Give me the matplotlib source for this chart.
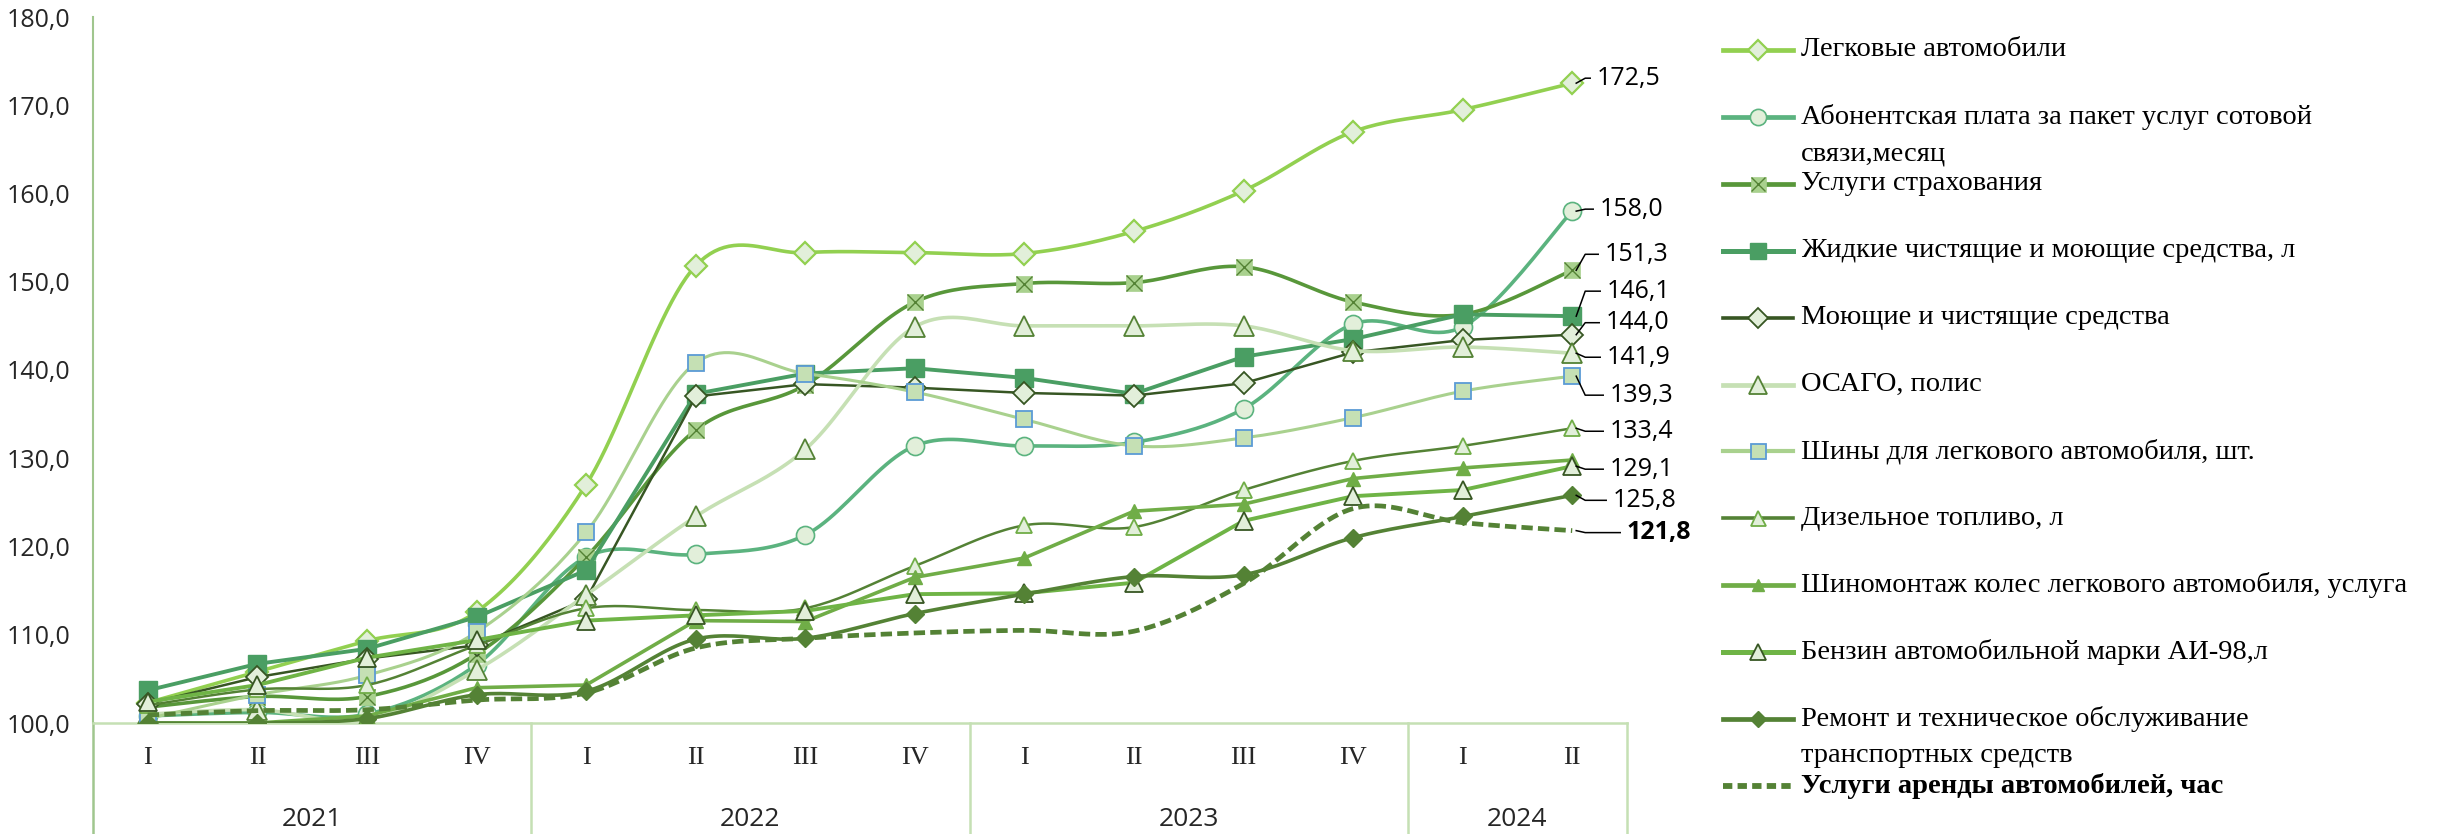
import numpy as np
import matplotlib
matplotlib.use("Agg")
import matplotlib.pyplot as plt
from matplotlib.lines import Line2D
from matplotlib.transforms import IdentityTransform, blended_transform_factory

# --- data -------------------------------------------------------------
quarters = ['I', 'II', 'III', 'IV', 'I', 'II', 'III', 'IV',
            'I', 'II', 'III', 'IV', 'I', 'II']
years = ['2021', '2022', '2023', '2024']
year_len = [4, 4, 4, 2]

names = [
    'Легковые автомобили',
    'Абонентская плата за пакет услуг сотовой\nсвязи,месяц',
    'Услуги страхования',
    'Жидкие чистящие и моющие средства, л',
    'Моющие и чистящие средства',
    'ОСАГО, полис',
    'Шины для легкового автомобиля, шт.',
    'Дизельное топливо, л',
    'Шиномонтаж колес легкового автомобиля, услуга',
    'Бензин автомобильной марки АИ-98,л',
    'Ремонт и техническое обслуживание\nтранспортных средств',
    'Услуги аренды автомобилей, час',
]

legkovye = [102.3, 105.8, 109.3, 112.6, 127.0, 151.8, 153.3, 153.3, 153.2, 155.7, 160.3, 167.0, 169.5, 172.5]
abonent = [100.8, 101.2, 101.0, 106.6, 118.8, 119.1, 121.3, 131.4, 131.4, 131.8, 135.6, 145.2, 144.9, 158.0]
strah = [101.8, 103.0, 103.0, 107.8, 118.8, 133.2, 138.3, 147.7, 149.8, 149.9, 151.7, 147.7, 146.3, 151.3]
zhidkie = [103.7, 106.7, 108.4, 112.0, 117.3, 137.3, 139.6, 140.2, 139.1, 137.3, 141.5, 143.5, 146.3, 146.1]
moyushie = [102.2, 105.2, 107.3, 108.8, 114.0, 137.0, 138.4, 138.0, 137.4, 137.1, 138.5, 142.0, 143.4, 144.0]
osago = [101.0, 101.5, 100.4, 106.0, 114.5, 123.4, 131.0, 144.9, 145.0, 145.0, 145.0, 142.2, 142.6, 141.9]
shiny = [100.5, 103.2, 105.4, 110.3, 121.6, 140.8, 139.6, 137.5, 134.4, 131.4, 132.3, 134.6, 137.6, 139.3]
dizel = [102.0, 103.8, 104.3, 108.8, 113.0, 112.8, 113.0, 117.8, 122.4, 122.2, 126.4, 129.7, 131.4, 133.4]
shinomontazh = [100.0, 100.0, 100.8, 104.0, 104.3, 111.6, 111.5, 116.5, 118.7, 124.0, 124.8, 127.7, 128.9, 129.8]
benzin = [102.4, 104.3, 107.4, 109.4, 111.6, 112.2, 112.7, 114.6, 114.7, 115.9, 122.9, 125.7, 126.4, 129.1]
remont = [100.0, 100.0, 100.5, 103.2, 103.6, 109.5, 109.6, 112.4, 114.6, 116.6, 116.8, 121.0, 123.4, 125.8]
arenda = [100.9, 101.4, 101.5, 102.6, 103.4, 108.5, 109.6, 110.2, 110.5, 110.4, 115.8, 124.3, 122.7, 121.8]

series = [legkovye, abonent, strah, zhidkie, moyushie, osago,
          shiny, dizel, shinomontazh, benzin, remont, arenda]

# --- styles -----------------------------------------------------------
styles = [
    dict(c='#92d050', lw=2.6, smooth=True, m='D', ms=11, mfc='#e2efda', mec='#92d050', mew=1.6),
    dict(c='#5bb37f', lw=2.6, smooth=True, m='o', ms=13, mfc='#e2efda', mec='#5bb37f', mew=1.2),
    dict(c='#58973a', lw=2.6, smooth=True, m='s', ms=12, mfc='#a9d18e', mec='#a9d18e', mew=0.5, cross=True),
    dict(c='#4a9e63', lw=2.8, smooth=False, m='s', ms=13, mfc='#4a9e63', mec='#4a9e63', mew=1),
    dict(c='#375623', lw=1.8, smooth=False, m='D', ms=11, mfc='#e2efda', mec='#375623', mew=1.3),
    dict(c='#c6e0b4', lw=2.6, smooth=True, m='^', ms=15, mfc='#e2efda', mec='#548235', mew=1.3),
    dict(c='#a9d18e', lw=2.2, smooth=True, m='s', ms=12, mfc='#c5e0b4', mec='#5b9bd5', mew=1.3),
    dict(c='#548235', lw=1.8, smooth=True, m='^', ms=12, mfc='#e2efda', mec='#70ad47', mew=1.3),
    dict(c='#70ad47', lw=2.6, smooth=False, m='^', ms=10, mfc='#70ad47', mec='#70ad47', mew=1),
    dict(c='#6fb446', lw=2.8, smooth=False, m='^', ms=13, mfc='#e2efda', mec='#375623', mew=1.3),
    dict(c='#548235', lw=2.6, smooth=True, m='D', ms=9, mfc='#548235', mec='#548235', mew=1),
    dict(c='#548235', lw=3.4, smooth=True, m=None, dashed=True),
]

# end-value label placement (pixels): vertical shift and text start; None = no label
label_dy = [5, 2, 16, 25, 12, -4, -19, -3, None, -3, -5, -2]
label_dx = [24, 27, 32, 34, 33, 34, 37, 37, None, 37, 40, 54]

sans = 'Open Sans'
serif = 'Liberation Serif'
txt = '#262626'


def excel_smooth(x, y, n=24):
    # cubic Bezier through the points, as in Excel "smoothed line"
    x = np.asarray(x, float)
    y = np.asarray(y, float)
    px = np.r_[x[0], x, x[-1]]
    py = np.r_[y[0], y, y[-1]]
    t = np.linspace(0, 1, n)[:, None]
    out = []
    for i in range(len(x) - 1):
        p0 = np.array([px[i], py[i]])
        p1 = np.array([px[i + 1], py[i + 1]])
        p2 = np.array([px[i + 2], py[i + 2]])
        p3 = np.array([px[i + 3], py[i + 3]])
        c1 = p1 + (p2 - p0) / 6
        c2 = p2 - (p3 - p1) / 6
        seg = ((1 - t) ** 3) * p1 + 3 * ((1 - t) ** 2) * t * c1 + 3 * (1 - t) * t ** 2 * c2 + t ** 3 * p2
        out.append(seg if i == 0 else seg[1:])
    out = np.vstack(out)
    return out[:, 0], out[:, 1]


W, H = 2438, 834
fig = plt.figure(figsize=(W / 100, H / 100), dpi=100)
ax_left, ax_right, ax_bottom, ax_top = 93, 1627, 723, 17
ax = fig.add_axes([ax_left / W, 1 - ax_bottom / H, (ax_right - ax_left) / W, (ax_bottom - ax_top) / H])

x = np.arange(len(quarters))

for vals, st in zip(series, styles):
    if st['smooth']:
        sx, sy = excel_smooth(x, vals)
    else:
        sx, sy = x, np.asarray(vals)
    ls = (0, (2.4, 1.1)) if st.get('dashed') else '-'
    ax.plot(sx, sy, color=st['c'], lw=st['lw'], ls=ls, solid_capstyle='round', zorder=3)
    if st['m']:
        ax.plot(x, vals, ls='none', marker=st['m'], ms=st['ms'], mfc=st['mfc'],
                mec=st['mec'], mew=st['mew'], zorder=3)
        if st.get('cross'):
            ax.plot(x, vals, ls='none', marker='x', ms=st['ms'] - 1, mec='#548235', mew=1.0, zorder=3)

ax.set_xlim(-0.5, len(quarters) - 0.5)
ax.set_ylim(100, 180)
ax.set_yticks(np.arange(100, 181, 10))
ax.set_yticklabels([f'{v:.1f}'.replace('.', ',') for v in np.arange(100, 181, 10)],
                   fontsize=18, family=sans, color=txt)
ax.set_xticks(x)
ax.set_xticklabels(quarters, fontsize=19, family=serif, color=txt)
ax.tick_params(axis='y', length=0, pad=16)
ax.tick_params(axis='x', length=0, pad=17)

for s in ['top', 'right']:
    ax.spines[s].set_visible(False)
ax.spines['left'].set_color('#a0c68e')
ax.spines['left'].set_linewidth(1.5)
ax.spines['bottom'].set_color('#c5e0b4')
ax.spines['bottom'].set_linewidth(1.8)

# category separators and year labels
trans = blended_transform_factory(ax.transData, ax.transAxes)
depth = (H - ax_bottom) / (ax_bottom - ax_top)
bounds = np.r_[0, np.cumsum(year_len)] - 0.5
for b in bounds:
    col = '#a0c68e' if b == bounds[0] else '#c5e0b4'
    ax.plot([b, b], [0, -depth], color=col, lw=1.8, transform=trans, clip_on=False)
for i, yr in enumerate(years):
    cx = (bounds[i] + bounds[i + 1]) / 2
    ax.text(cx, -(820 - ax_bottom) / (ax_bottom - ax_top), yr, transform=trans,
            ha='center', va='center', fontsize=19, family=sans, color=txt)

# end-value labels with leader lines
ident = IdentityTransform()
for vals, dy, dx in zip(series, label_dy, label_dx):
    if dy is None:
        continue
    px, py = ax.transData.transform((x[-1], vals[-1]))
    ly = py + dy
    fig.add_artist(Line2D([px + 4, px + 13, dx + px - 6], [py, ly, ly], color='black', lw=1.1,
                          transform=ident))
    weight = 'bold' if vals is arenda else 'normal'
    fig.text(px + dx, ly, f'{vals[-1]:.1f}'.replace('.', ','), transform=ident,
             ha='left', va='center', fontsize=18, family=sans, color='black', fontweight=weight)

# legend drawn by hand on the right
lx0, lx1, tx = 1723, 1793, 1801
leg_top, leg_step, line_step = 50, 66.9, 37
for i, (name, st) in enumerate(zip(names, styles)):
    yy = H - (leg_top + i * leg_step)
    ls = (0, (1.6, 0.9)) if st.get('dashed') else '-'
    fig.add_artist(Line2D([lx0, lx1], [yy, yy], color=st['c'], lw=st['lw'] + 0.8, ls=ls,
                          transform=ident))
    if st['m']:
        fig.add_artist(Line2D([(lx0 + lx1) / 2], [yy], ls='none', marker=st['m'],
                              ms=st['ms'] * 0.9, mfc=st['mfc'], mec=st['mec'], mew=st['mew'],
                              transform=ident))
        if st.get('cross'):
            fig.add_artist(Line2D([(lx0 + lx1) / 2], [yy], ls='none', marker='x',
                                  ms=st['ms'] * 0.9 - 1, mec='#548235', mew=1.0, transform=ident))
    weight = 'bold' if i == len(names) - 1 else 'normal'
    for k, part in enumerate(name.split('\n')):
        fig.text(tx, yy - k * line_step, part, transform=ident, ha='left', va='center',
                 fontsize=20.5, family=serif, color='black', fontweight=weight)

fig.savefig('out.png', dpi=100)
